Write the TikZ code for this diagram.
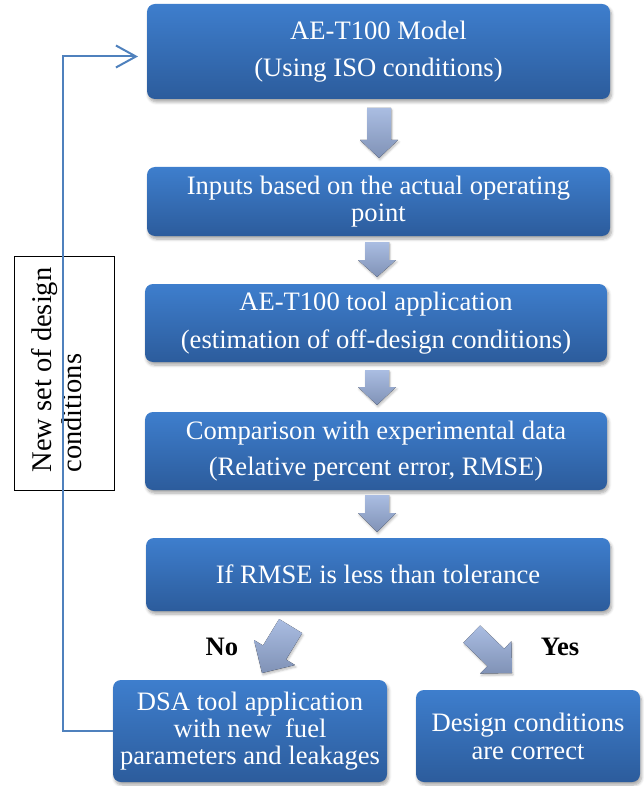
\documentclass[tikz,border=0pt]{standalone}
\usepackage{fontspec}
\setmainfont{Liberation Serif}
\usetikzlibrary{arrows.meta,shadows.blur}
\definecolor{boxtop}{RGB}{62,126,205}
\definecolor{boxbot}{RGB}{44,92,156}
\definecolor{arrtop}{RGB}{170,189,226}
\definecolor{arrbot}{RGB}{128,146,182}
\definecolor{fbcol}{RGB}{79,129,189}
\newcommand\downblk[4]{% x, ytop, yhead, ytip
  \fill[blkarrow] (#1-12,#2) -- (#1+12,#2) -- (#1+12,#3) -- (#1+19,#3) -- (#1,#4) -- (#1-19,#3) -- (#1-12,#3) -- cycle;}
\begin{document}
\begin{tikzpicture}[x=1pt,y=-1pt,
  flowbox/.style={rounded corners=8pt, top color=boxtop, bottom color=boxbot,
    text=white, align=center, inner sep=0pt, font=\fontsize{26.6}{28}\selectfont,
    blur shadow={shadow xshift=1.5pt, shadow yshift=-3pt, shadow blur radius=3pt, shadow blur steps=6, shadow opacity=35}},
  blkarrow/.style={top color=arrtop, bottom color=arrbot,
    blur shadow={shadow xshift=1pt, shadow yshift=-2pt, shadow blur radius=2pt, shadow blur steps=4, shadow opacity=25}},
  lbl/.style={font=\bfseries\fontsize{26.6}{28}\selectfont},
  fb/.style={draw=fbcol, line width=2pt, -{Straight Barb[length=20pt,width=22pt]}}]
\useasboundingbox (0,0) rectangle (643,786);

\node[flowbox, minimum width=463pt, minimum height=95pt] (b1) at (378.5,51.5)
  {AE-T100 Model\\[9pt](Using ISO conditions)};
\node[flowbox, minimum width=463pt, minimum height=69pt, font=\fontsize{26.6}{27}\selectfont] (b2) at (378.5,201.5)
  {Inputs based on the actual operating\\point};
\node[flowbox, minimum width=462pt, minimum height=78pt] (b3) at (376,323)
  {AE-T100 tool application\\[10pt](estimation of off-design conditions)};
\node[flowbox, minimum width=462pt, minimum height=78pt] (b4) at (376,451)
  {Comparison with experimental data\\[8pt](Relative percent error, RMSE)};
\node[flowbox, minimum width=464pt, minimum height=73pt] (b5) at (378,574.5)
  {If RMSE is less than tolerance};
\node[flowbox, minimum width=274pt, minimum height=102pt, font=\fontsize{26.6}{27}\selectfont] (b6) at (250,731)
  {DSA tool application\\with new\ \ fuel\\parameters and leakages};
\node[flowbox, minimum width=224pt, minimum height=92pt] (b7) at (528,736)
  {Design conditions\\are correct};

% block arrows between boxes
\downblk{379}{108}{140}{158}
\downblk{377}{242}{260}{277}
\downblk{377}{370}{387}{405}
\downblk{377}{495}{513}{532}
% No arrow (down-left)
\begin{scope}[shift={(262,673)}, rotate=-31.4]
  \fill[blkarrow] (-13.5,-55) -- (13.5,-55) -- (13.5,-24) -- (24,-24) -- (0,0) -- (-24,-24) -- (-13.5,-24) -- cycle;
\end{scope}
% Yes arrow (down-right)
\begin{scope}[shift={(512,673)}, rotate=46]
  \fill[blkarrow] (-12,-56) -- (12,-56) -- (12,-22.5) -- (22.5,-22.5) -- (0,0) -- (-22.5,-22.5) -- (-12,-22.5) -- cycle;
\end{scope}

\node[lbl] (no) at (222,647) {No};
\node[lbl] (yes) at (560,647) {Yes};

% side label
\node[draw=black, line width=0.8pt, fill=white, minimum width=100pt, minimum height=234pt] (side) at (64,373) {};
\node[rotate=90, align=left, inner sep=0pt, font=\fontsize{28.5}{30}\selectfont] (sidetext) at (57,370)
  {New set of design\\conditions};

% feedback connector
\coordinate (fbtop) at (63,56.5);
\coordinate (fbend) at (138,56.5);
\draw[fb] (b6.west) -| (fbtop) -- (fbend);
\end{tikzpicture}
\end{document}
